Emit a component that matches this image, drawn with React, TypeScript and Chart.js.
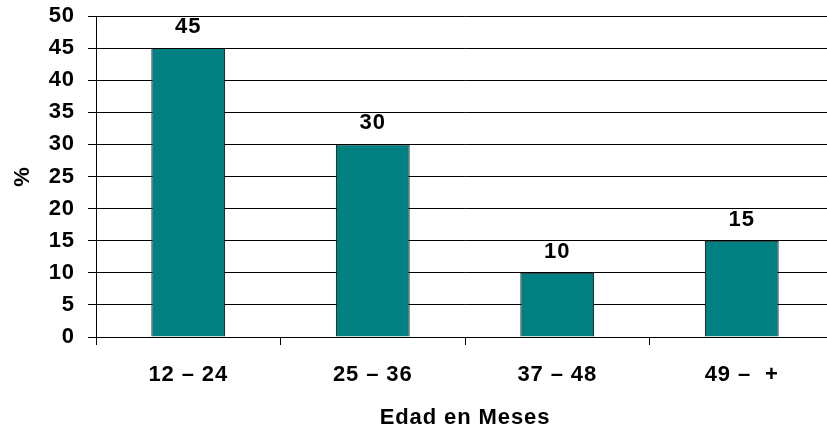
import React, { useEffect, useRef } from "react";
import { Chart, registerables } from "chart.js";

Chart.register(...registerables);

const categories = ["12 – 24", "25 – 36", "37 – 48", "49 –  +"];
const percentages = [45, 30, 10, 15];
const yTicks = [0, 5, 10, 15, 20, 25, 30, 35, 40, 45, 50];

const FONT = '"Liberation Sans", Arial, Helvetica, sans-serif';
const FONT_SIZE = 22;

// Slightly wider letter spacing for all chart text
const textSpacing = {
  id: "textSpacing",
  beforeInit(chart: any) {
    chart.ctx.letterSpacing = "0.9px";
  },
  beforeDraw(chart: any) {
    chart.ctx.letterSpacing = "0.9px";
  },
};

// Draws each bar's value above it
const valueLabels = {
  id: "valueLabels",
  afterDatasetsDraw(chart: any) {
    const ctx = chart.ctx;
    const meta = chart.getDatasetMeta(0);
    ctx.save();
    ctx.letterSpacing = "0.9px";
    ctx.font = `bold ${FONT_SIZE}px ${FONT}`;
    ctx.fillStyle = "#000";
    ctx.textAlign = "center";
    ctx.textBaseline = "middle";
    meta.data.forEach((bar: any, i: number) => {
      ctx.fillText(String(percentages[i]), bar.x, bar.y - 21);
    });
    ctx.restore();
  },
};

export default function App() {
  const canvasRef = useRef<HTMLCanvasElement | null>(null);

  useEffect(() => {
    if (!canvasRef.current) return;
    const font = { family: FONT, size: FONT_SIZE, weight: "bold" as const };
    const chart = new Chart(canvasRef.current, {
      type: "bar",
      data: {
        labels: categories,
        datasets: [
          {
            data: percentages,
            backgroundColor: "#008080",
            borderColor: "#000000",
            borderWidth: 1,
            barPercentage: 0.4,
            categoryPercentage: 1,
          },
        ],
      },
      options: {
        animation: false,
        responsive: false,
        layout: { padding: { top: 16, right: 2, left: 0, bottom: 0 } },
        plugins: {
          legend: { display: false },
          tooltip: { enabled: false },
        },
        scales: {
          x: {
            offset: true,
            grid: {
              offset: true,
              drawOnChartArea: false,
              drawTicks: true,
              tickLength: 8,
              color: "#000",
            },
            border: { color: "#000", width: 1 },
            ticks: {
              color: "#000",
              font,
              padding: 17,
              maxRotation: 0,
            },
            title: {
              display: true,
              text: "Edad en Meses",
              color: "#000",
              font,
              padding: { top: 0, bottom: 3 },
            },
            afterFit(scale: any) {
              scale.height = 97;
            },
          },
          y: {
            min: 0,
            max: 50,
            afterBuildTicks(scale: any) {
              scale.ticks = yTicks.map((v) => ({ value: v }));
            },
            grid: {
              color: "#000",
              lineWidth: 1,
              drawTicks: true,
              tickLength: 8,
            },
            border: { color: "#000", width: 1 },
            ticks: {
              color: "#000",
              font,
              padding: 13,
            },
            title: {
              display: true,
              text: "%",
              color: "#000",
              font,
              padding: { top: 10, bottom: 0 },
            },
            afterFit(scale: any) {
              scale.width = 96;
              scale.paddingTop = 0;
              scale.paddingBottom = 0;
            },
          },
        },
      },
      plugins: [textSpacing, valueLabels],
    });
    return () => chart.destroy();
  }, []);

  return (
    <div
      style={{
        position: "fixed",
        left: 0,
        top: 0,
        width: 827,
        height: 434,
        overflow: "hidden",
        background: "#fff",
      }}
    >
      <canvas ref={canvasRef} width={836} height={434} style={{ display: "block" }} />
    </div>
  );
}
